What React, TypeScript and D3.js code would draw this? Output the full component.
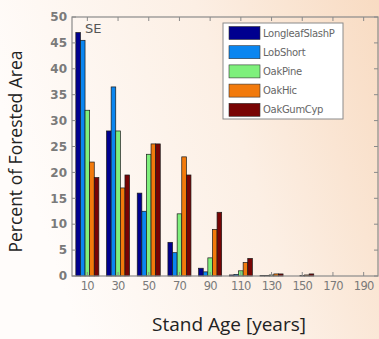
import * as d3 from "d3";

const bins = ["10", "30", "50", "70", "90", "110", "130", "150", "170", "190"];
const seriesNames = ["LongleafSlashP", "LobShort", "OakPine", "OakHic", "OakGumCyp"];
const seriesColors = ["#00008f", "#0a86f0", "#7ef07c", "#f27a0c", "#780404"];

const longleafSlashP = [47, 28, 16, 6.5, 1.5, 0.2, 0.1, 0, 0, 0];
const lobShort = [45.5, 36.5, 12.5, 4.5, 0.8, 0.3, 0.1, 0, 0, 0];
const oakPine = [32, 28, 23.5, 12, 3.5, 1, 0.2, 0.1, 0, 0];
const oakHic = [22, 17, 25.5, 23, 9, 2.6, 0.4, 0.2, 0, 0];
const oakGumCyp = [19, 19.5, 25.5, 19.5, 12.3, 3.4, 0.4, 0.4, 0, 0];
const seriesValues = [longleafSlashP, lobShort, oakPine, oakHic, oakGumCyp];

const yTicks = [0, 5, 10, 15, 20, 25, 30, 35, 40, 45, 50];

export default function App() {
    const width = 379;
    const height = 339;
    const plot = { left: 72, right: 379, top: 17, bottom: 276 };

    const x = d3.scaleBand<string>()
        .domain(bins)
        .range([plot.left, plot.right])
        .paddingInner(0.25)
        .paddingOuter(0.125);
    const xInner = d3.scaleBand<number>()
        .domain(d3.range(seriesNames.length))
        .range([0, x.bandwidth()]);
    const y = d3.scaleLinear().domain([0, 50]).range([plot.bottom, plot.top]);

    const tickFont = "'DejaVu Sans', sans-serif";
    const labelFont = "'Open Sans', sans-serif";

    return (
        <svg width={width} height={height} style={{ display: "block", position: "absolute", left: 0, top: 0 }}>
            <defs>
                <linearGradient id="bg" x1="0" y1="0.3" x2="1" y2="0">
                    <stop offset="0" stopColor="#fffcfa" />
                    <stop offset="0.55" stopColor="#fcefe4" />
                    <stop offset="1" stopColor="#f8dbc2" />
                </linearGradient>
            </defs>
            <rect x={0} y={0} width={width} height={height} fill="url(#bg)" />

            {/* bars */}
            {seriesValues.map((vals, si) => (
                <g key={si}>
                    {vals.map((v, bi) => v > 0 && (
                        <rect
                            key={bi}
                            x={(x(bins[bi]) ?? 0) + (xInner(si) ?? 0)}
                            y={y(v)}
                            width={xInner.bandwidth()}
                            height={plot.bottom - y(v)}
                            fill={seriesColors[si]}
                            stroke="#1a1a1a"
                            strokeWidth={0.7}
                        />
                    ))}
                </g>
            ))}

            {/* frame */}
            <rect x={plot.left} y={plot.top} width={plot.right - plot.left - 1} height={plot.bottom - plot.top}
                fill="none" stroke="#8a8a8a" strokeWidth={1.2} />

            {/* y ticks */}
            {yTicks.map(t => (
                <g key={t}>
                    <line x1={plot.left} x2={plot.left + 4} y1={y(t)} y2={y(t)} stroke="#8a8a8a" />
                    <line x1={plot.right - 5} x2={plot.right - 1} y1={y(t)} y2={y(t)} stroke="#8a8a8a" />
                    <text x={plot.left - 5} y={y(t)} dy="0.35em" textAnchor="end" fontSize={12}
                        fontFamily={tickFont} fill="#7a7a7a" fontWeight="bold">{t}</text>
                </g>
            ))}

            {/* x ticks */}
            {bins.map(b => {
                const cx = (x(b) ?? 0) + x.bandwidth() / 2;
                return (
                    <g key={b}>
                        <line x1={cx} x2={cx} y1={plot.bottom} y2={plot.bottom - 4} stroke="#8a8a8a" />
                        <line x1={cx} x2={cx} y1={plot.top} y2={plot.top + 4} stroke="#8a8a8a" />
                        <text x={cx} y={plot.bottom + 14} textAnchor="middle" fontSize={11.5}
                            fontFamily={tickFont} fill="#7a7a7a" letterSpacing={-0.8}>{b}</text>
                    </g>
                );
            })}

            <text x={plot.left + 13} y={plot.top + 16} fontSize={13} fontFamily={tickFont} fill="#555">SE</text>

            {/* legend */}
            <g>
                <rect x={223} y={23} width={120} height={96} fill="#ffffff" stroke="#8a8a8a" strokeWidth={1} />
                {seriesNames.map((name, i) => (
                    <g key={name} transform={`translate(229, ${33 + i * 19.2})`}>
                        <rect x={0} y={-6.5} width={31} height={13} fill={seriesColors[i]} stroke="#333" strokeWidth={0.6} />
                        <text x={34} y={0} dy="0.35em" fontSize={10} fontFamily={tickFont} fill="#666" letterSpacing={-0.3}>{name}</text>
                    </g>
                ))}
            </g>

            {/* axis titles */}
            <text transform={`translate(22, ${(plot.top + plot.bottom) / 2 + 5}) rotate(-90)`} textAnchor="middle"
                fontSize={17.5} fontFamily={labelFont} fill="#222">Percent of Forested Area</text>
            <text x={229} y={331} textAnchor="middle" fontSize={19} fontFamily={labelFont} fill="#222">Stand Age [years]</text>
        </svg>
    );
}
